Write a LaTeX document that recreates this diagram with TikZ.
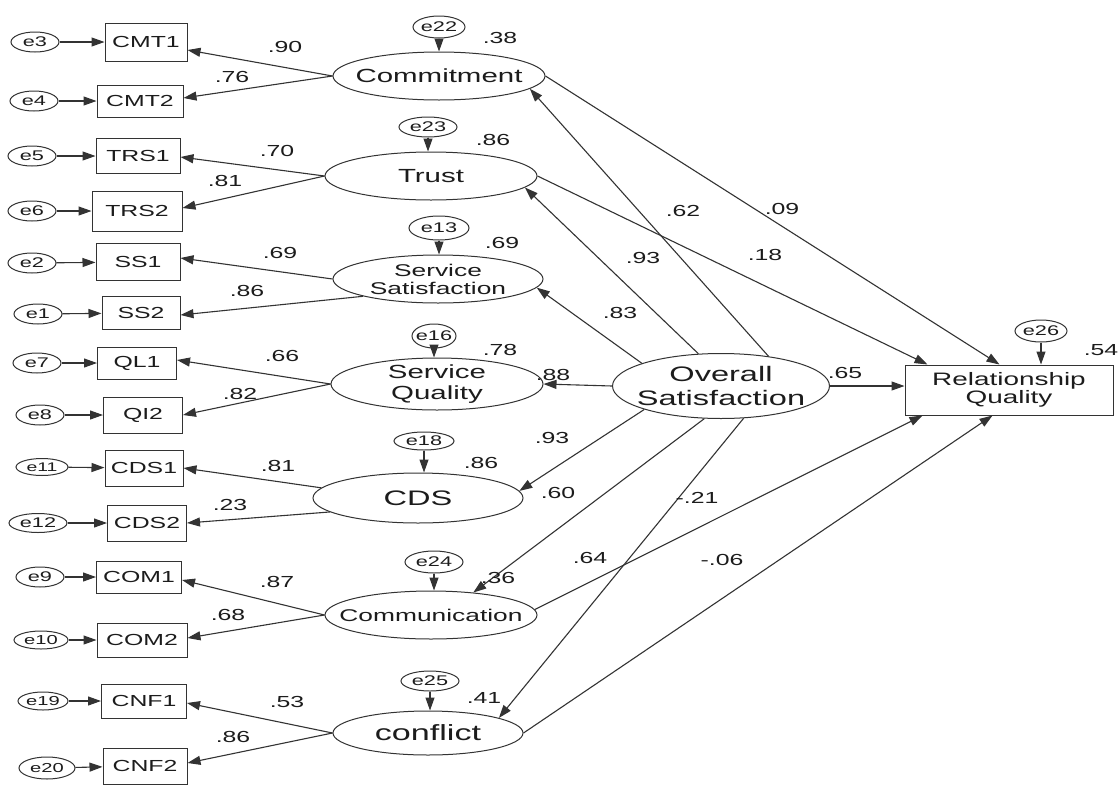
\documentclass[tikz,border=0pt]{standalone}
\usepackage{fontspec}
\setmainfont{Liberation Sans}[FakeStretch=1.55]
\usetikzlibrary{shapes.geometric,arrows.meta,calc}
\definecolor{ink}{HTML}{1C1C1C}
\definecolor{lc}{HTML}{333333}
\begin{document}
\begin{tikzpicture}[x=1pt,y=-1pt,
 every node/.style={text=ink},
 ind/.style={draw=lc,line width=1pt,rectangle,inner sep=0pt,minimum width=84pt,minimum height=35pt,font=\fontsize{16}{18}\selectfont},
 err/.style={draw=lc,line width=1pt,ellipse,inner xsep=-40pt,inner ysep=-15pt,minimum width=48pt,minimum height=20pt,font=\fontsize{14}{16}\selectfont},
 lat/.style={draw=lc,line width=1pt,ellipse,inner xsep=-130pt,inner ysep=-45pt,align=center},
 num/.style={font=\fontsize{16}{18}\selectfont,inner sep=0pt},
 arr/.style={draw=lc,line width=1.1pt,-{Triangle[length=13pt,width=9pt]}},
]
\useasboundingbox[fill=white] (0,0) rectangle (1120,785);

% indicators
\node[ind,minimum width=82,minimum height=38] (CMT1) at (146,42) {CMT1};
\node[ind,minimum width=86,minimum height=32] (CMT2) at (140,101) {CMT2};
\node[ind,minimum width=84,minimum height=35] (TRS1) at (138,156) {TRS1};
\node[ind,minimum width=90,minimum height=40] (TRS2) at (137,211) {TRS2};
\node[ind,minimum width=84,minimum height=37] (SS1) at (138,262) {SS1};
\node[ind,minimum width=78,minimum height=33] (SS2) at (141,313) {SS2};
\node[ind,minimum width=79,minimum height=32] (QL1) at (137,363) {QL1};
\node[ind,minimum width=79,minimum height=36] (QI2) at (143,415) {QI2};
\node[ind,minimum width=78,minimum height=36] (CDS1) at (144,468) {CDS1};
\node[ind,minimum width=79,minimum height=36] (CDS2) at (147,523) {CDS2};
\node[ind,minimum width=85,minimum height=32] (COM1) at (139,577) {COM1};
\node[ind,minimum width=90,minimum height=34] (COM2) at (142,640) {COM2};
\node[ind,minimum width=85,minimum height=34] (CNF1) at (144,701) {CNF1};
\node[ind,minimum width=84,minimum height=36] (CNF2) at (145,766) {CNF2};

% left error terms
\node[err] (e3) at (35,42) {e3};
\node[err] (e4) at (34,101) {e4};
\node[err] (e5) at (32,156) {e5};
\node[err] (e6) at (32,211) {e6};
\node[err] (e2) at (32,263) {e2};
\node[err] (e1) at (38,314) {e1};
\node[err] (e7) at (37,363) {e7};
\node[err] (e8) at (40,415) {e8};
\node[err,minimum width=52,minimum height=17,font=\fontsize{12.5}{14}\selectfont] (e11) at (42,467) {e11};
\node[err,minimum width=58,minimum height=19] (e12) at (38,523) {e12};
\node[err] (e9) at (40,577) {e9};
\node[err,minimum width=54,minimum height=18,font=\fontsize{13}{14}\selectfont] (e10) at (41,640) {e10};
\node[err,minimum width=50,minimum height=18,font=\fontsize{13}{14}\selectfont] (e19) at (43,701) {e19};
\node[err,minimum width=56,minimum height=22,font=\fontsize{13}{14}\selectfont] (e20) at (47,768) {e20};

% latent variables
\node[lat,minimum width=212,minimum height=48,font=\fontsize{19}{21}\selectfont] (Commit) at (439,76) {Commitment};
\node[lat,minimum width=212,minimum height=48,font=\fontsize{19}{21}\selectfont] (Trust) at (431,176) {Trust};
\node[lat,minimum width=210,minimum height=48,font=\fontsize{17}{18}\selectfont] (SS) at (438,279) {Service\\Satisfaction};
\node[lat,minimum width=212,minimum height=52,font=\fontsize{19}{21}\selectfont] (SQ) at (437,384) {Service\\Quality};
\node[lat,minimum width=210,minimum height=50,font=\fontsize{21}{23}\selectfont] (CDS) at (418,498) {CDS};
\node[lat,minimum width=212,minimum height=48,font=\fontsize{17}{19}\selectfont] (Comm) at (431,615) {Communication};
\node[lat,minimum width=190,minimum height=44,font=\fontsize{22}{24}\selectfont] (Conf) at (428,733) {conflict};
\node[lat,minimum width=217,minimum height=65,font=\fontsize{21}{24}\selectfont] (OS) at (721,386) {Overall\\Satisfaction};
\node[draw=lc,line width=1pt,rectangle,inner sep=0pt,minimum width=208,minimum height=50,align=center,font=\fontsize{18}{18.5}\selectfont] (RQ) at (1009,390) {Relationship\\Quality};

% error terms of latents
\node[err,minimum width=52,minimum height=22] (e22) at (439,27) {e22};
\node[err,minimum width=58,minimum height=20] (e23) at (428,127) {e23};
\node[err,minimum width=60,minimum height=24] (e13) at (439,228) {e13};
\node[err,minimum width=44,minimum height=24] (e16) at (434,336) {e16};
\node[err,minimum width=60,minimum height=18] (e18) at (424,441) {e18};
\node[err,minimum width=58,minimum height=22] (e24) at (434,562) {e24};
\node[err,minimum width=58,minimum height=20] (e25) at (430,681) {e25};
\node[err,minimum width=52,minimum height=22] (e26) at (1041,331) {e26};

% error -> indicator arrows
\foreach \e/\i in {e3/CMT1,e4/CMT2,e5/TRS1,e6/TRS2,e2/SS1,e1/SS2,e7/QL1,e8/QI2,e11/CDS1,e12/CDS2,e9/COM1,e10/COM2,e19/CNF1,e20/CNF2}
  \draw[arr] (\e) -- (\i);

% loadings (yshift in canvas units: negative = lower on the page)
\foreach \l/\i/\s in {Commit.west/CMT1/-8,Commit.west/CMT2/3,Trust.west/TRS1/-1,Trust.west/TRS2/3,SS.west/SS1/4,SS.193/SS2/-2,SQ.west/QL1/3,SQ.west/QI2/0,CDS.174/CDS1/0,CDS.189/CDS2/0,Comm.west/COM1/-3,Comm.west/COM2/2,Conf.west/CNF1/-2,Conf.west/CNF2/3}
  \draw[arr] (\l) -- ([yshift=\s pt]\i.east);

% error -> latent arrows
\foreach \e/\l in {e22/Commit,e23/Trust,e13/SS,e16/SQ,e18/CDS,e24/Comm,e25/Conf,e26/RQ}
  \draw[arr] (\e.south) -- (\e.south |- \l.north);

% structural paths from Overall Satisfaction
\draw[arr] (OS.32) -- (Commit.352);
\draw[arr] (OS.125) -- (Trust.353);
\draw[arr] (OS.164) -- (SS.355);
\draw[arr] (OS.west) -- (SQ.east);
\draw[arr] (OS.197) -- (CDS.4);
\draw[arr] (OS.243) -- (Comm.28);
\draw[arr] (OS.305) -- (Conf.12);
\draw[arr] (OS.east) -- (OS.east -| RQ.west);

% paths to Relationship Quality
\coordinate (rqA) at ($(RQ.north west)+(95,0)$);
\coordinate (rqB) at ($(RQ.north west)+(23,0)$);
\coordinate (rqC) at ($(RQ.south west)+(18,0)$);
\coordinate (rqD) at ($(RQ.south west)+(88,0)$);
\draw[arr] (Commit.east) -- (rqA);
\draw[arr] (Trust.east) -- (rqB);
\draw[arr] (Comm.3) -- (rqC);
\draw[arr] (Conf.east) -- (rqD);

% loading labels
\node[num] (n1) at (285,47) {.90};
\node[num] (n2) at (232,77) {.76};
\node[num] (n3) at (277,151) {.70};
\node[num] (n4) at (225,181) {.81};
\node[num] (n5) at (280,253) {.69};
\node[num] (n6) at (247,291) {.86};
\node[num] (n7) at (282,356) {.66};
\node[num] (n8) at (240,394) {.82};
\node[num] (n9) at (278,466) {.81};
\node[num] (n10) at (230,505) {.23};
\node[num] (n11) at (277,582) {.87};
\node[num] (n12) at (228,615) {.68};
\node[num] (n13) at (287,702) {.53};
\node[num] (n14) at (233,737) {.86};

% squared multiple correlations
\node[num] (r1) at (500,38) {.38};
\node[num] (r2) at (493,140) {.86};
\node[num] (r3) at (502,243) {.69};
\node[num] (r4) at (500,350) {.78};
\node[num] (r5) at (481,463) {.86};
\node[num] (r6) at (498,578) {.36};
\node[num] (r7) at (484,698) {.41};
\node[num] (r8) at (1101,350) {.54};

% path coefficients
\node[num] (p1) at (683,211) {.62};
\node[num] (p2) at (782,209) {.09};
\node[num] (p3) at (643,258) {.93};
\node[num] (p4) at (765,255) {.18};
\node[num] (p5) at (620,313) {.83};
\node[num] (p6) at (553,375) {.88};
\node[num] (p7) at (845,373) {.65};
\node[num] (p8) at (552,438) {.93};
\node[num] (p9) at (558,493) {.60};
\node[num] (p10) at (697,498) {-.21};
\node[num] (p11) at (590,558) {.64};
\node[num] (p12) at (722,560) {-.06};
\end{tikzpicture}
\end{document}
